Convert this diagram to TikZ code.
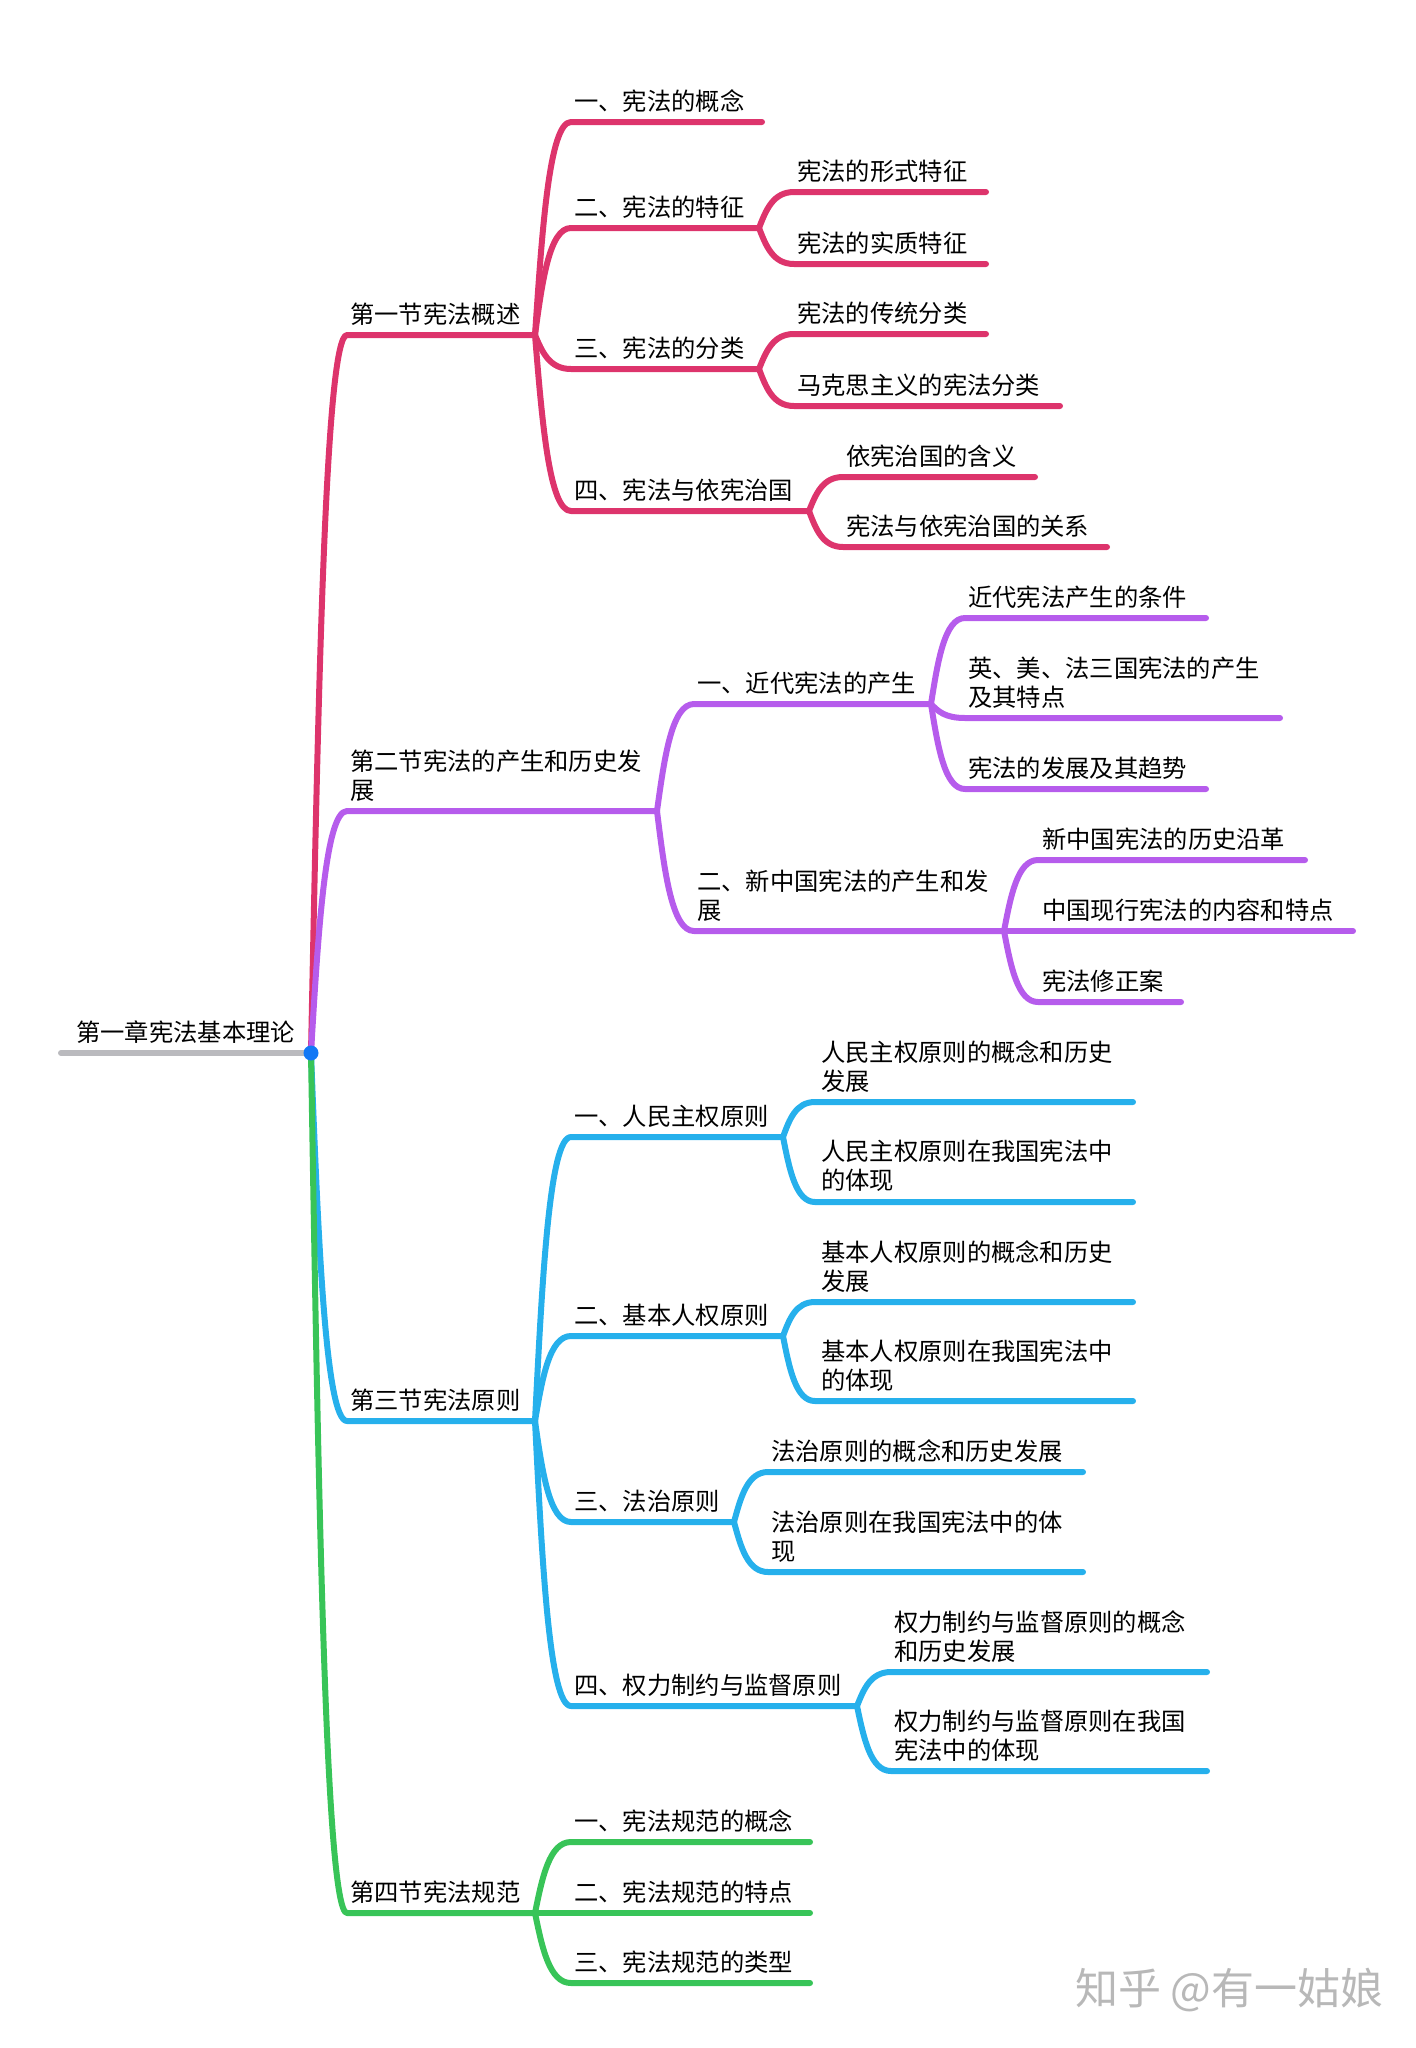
\documentclass[tikz,border=0pt]{standalone}
\usepackage{fontspec}
\setmainfont{Noto Sans CJK SC}
\usetikzlibrary{calc}

\definecolor{secred}{RGB}{221,52,108}
\definecolor{secpurple}{RGB}{182,92,236}
\definecolor{secblue}{RGB}{38,176,236}
\definecolor{secgreen}{RGB}{56,196,88}
\definecolor{rootgray}{RGB}{186,186,190}
\definecolor{dotblue}{RGB}{18,120,245}

\tikzset{
  branch/.style={line width=6pt, line cap=round, line join=round},
  link/.style={to path={let \p1=(\tikztostart), \p2=(\tikztotarget) in
      .. controls (0.8*\x1+0.2*\x2, 0.5*\y1+0.5*\y2) and (0.6*\x1+0.4*\x2, \y2) .. (\tikztotarget)}},
  topic/.style={anchor=base west, inner sep=0pt, align=left,
      font=\fontsize{24.3}{28.2}\selectfont},
  wmark/.style={anchor=west, inner sep=0pt, text=black!28,
      font=\fontsize{43}{47}\selectfont}
}

\begin{document}
\begin{tikzpicture}[x=1pt, y=-1pt]
\useasboundingbox (0,0) rectangle (1416,2048);

% root
\coordinate (r0) at (61,1053);
\coordinate (r1) at (311,1053);

% first section
\coordinate (a1)   at (347,335);  \coordinate (b1)   at (535,335);
\coordinate (a11)  at (571,122);  \coordinate (b11)  at (762,122);
\coordinate (a12)  at (571,228);  \coordinate (b12)  at (759,228);
\coordinate (a121) at (794,192);  \coordinate (b121) at (986,192);
\coordinate (a122) at (794,264);  \coordinate (b122) at (986,264);
\coordinate (a13)  at (571,369);  \coordinate (b13)  at (759,369);
\coordinate (a131) at (794,334);  \coordinate (b131) at (986,334);
\coordinate (a132) at (794,406);  \coordinate (b132) at (1060,406);
\coordinate (a14)  at (571,511);  \coordinate (b14)  at (809,511);
\coordinate (a141) at (843,477);  \coordinate (b141) at (1035,477);
\coordinate (a142) at (843,547);  \coordinate (b142) at (1107,547);

% second section
\coordinate (a2)   at (347,811);  \coordinate (b2)   at (657,811);
\coordinate (a21)  at (694,704);  \coordinate (b21)  at (931,704);
\coordinate (a211) at (965,618);  \coordinate (b211) at (1206,618);
\coordinate (a212) at (965,718);  \coordinate (b212) at (1280,718);
\coordinate (a213) at (965,789);  \coordinate (b213) at (1206,789);
\coordinate (a22)  at (694,931);  \coordinate (b22)  at (1004,931);
\coordinate (a221) at (1038,860); \coordinate (b221) at (1305,860);
\coordinate (a222) at (1038,931); \coordinate (b222) at (1353,931);
\coordinate (a223) at (1038,1002);\coordinate (b223) at (1181,1002);

% third section
\coordinate (a3)   at (347,1421); \coordinate (b3)   at (535,1421);
\coordinate (a31)  at (571,1137); \coordinate (b31)  at (783,1137);
\coordinate (a311) at (815,1102); \coordinate (b311) at (1133,1102);
\coordinate (a312) at (815,1202); \coordinate (b312) at (1133,1202);
\coordinate (a32)  at (571,1336); \coordinate (b32)  at (783,1336);
\coordinate (a321) at (815,1302); \coordinate (b321) at (1133,1302);
\coordinate (a322) at (815,1401); \coordinate (b322) at (1133,1401);
\coordinate (a33)  at (571,1522); \coordinate (b33)  at (734,1522);
\coordinate (a331) at (768,1472); \coordinate (b331) at (1083,1472);
\coordinate (a332) at (768,1572); \coordinate (b332) at (1083,1572);
\coordinate (a34)  at (571,1706); \coordinate (b34)  at (857,1706);
\coordinate (a341) at (891,1672); \coordinate (b341) at (1207,1672);
\coordinate (a342) at (891,1771); \coordinate (b342) at (1207,1771);

% fourth section
\coordinate (a4)   at (347,1913); \coordinate (b4)   at (535,1913);
\coordinate (a41)  at (571,1842); \coordinate (b41)  at (810,1842);
\coordinate (a42)  at (571,1913); \coordinate (b42)  at (810,1913);
\coordinate (a43)  at (571,1983); \coordinate (b43)  at (810,1983);

\draw[branch, rootgray] (r0) -- (r1);

\draw[branch, secred] (r1) to[link] (a1) -- (b1);
\draw[branch, secred] (b1) to[link] (a11) -- (b11);
\draw[branch, secred] (b1) to[link] (a12) -- (b12);
\draw[branch, secred] (b12) to[link] (a121) -- (b121);
\draw[branch, secred] (b12) to[link] (a122) -- (b122);
\draw[branch, secred] (b1) to[link] (a13) -- (b13);
\draw[branch, secred] (b13) to[link] (a131) -- (b131);
\draw[branch, secred] (b13) to[link] (a132) -- (b132);
\draw[branch, secred] (b1) to[link] (a14) -- (b14);
\draw[branch, secred] (b14) to[link] (a141) -- (b141);
\draw[branch, secred] (b14) to[link] (a142) -- (b142);

\draw[branch, secpurple] (r1) to[link] (a2) -- (b2);
\draw[branch, secpurple] (b2) to[link] (a21) -- (b21);
\draw[branch, secpurple] (b21) to[link] (a211) -- (b211);
\draw[branch, secpurple] (b21) to[link] (a212) -- (b212);
\draw[branch, secpurple] (b21) to[link] (a213) -- (b213);
\draw[branch, secpurple] (b2) to[link] (a22) -- (b22);
\draw[branch, secpurple] (b22) to[link] (a221) -- (b221);
\draw[branch, secpurple] (b22) to[link] (a222) -- (b222);
\draw[branch, secpurple] (b22) to[link] (a223) -- (b223);

\draw[branch, secblue] (r1) to[link] (a3) -- (b3);
\draw[branch, secblue] (b3) to[link] (a31) -- (b31);
\draw[branch, secblue] (b31) to[link] (a311) -- (b311);
\draw[branch, secblue] (b31) to[link] (a312) -- (b312);
\draw[branch, secblue] (b3) to[link] (a32) -- (b32);
\draw[branch, secblue] (b32) to[link] (a321) -- (b321);
\draw[branch, secblue] (b32) to[link] (a322) -- (b322);
\draw[branch, secblue] (b3) to[link] (a33) -- (b33);
\draw[branch, secblue] (b33) to[link] (a331) -- (b331);
\draw[branch, secblue] (b33) to[link] (a332) -- (b332);
\draw[branch, secblue] (b3) to[link] (a34) -- (b34);
\draw[branch, secblue] (b34) to[link] (a341) -- (b341);
\draw[branch, secblue] (b34) to[link] (a342) -- (b342);

\draw[branch, secgreen] (r1) to[link] (a4) -- (b4);
\draw[branch, secgreen] (b4) to[link] (a41) -- (b41);
\draw[branch, secgreen] (b4) to[link] (a42) -- (b42);
\draw[branch, secgreen] (b4) to[link] (a43) -- (b43);

\fill[dotblue] (r1) circle (7.5pt);

\node[topic] (n0) at (76,1041) {第一章宪法基本理论};

\node[topic] (n1)   at (350,323)  {第一节宪法概述};
\node[topic] (n11)  at (574,110)  {一、宪法的概念};
\node[topic] (n12)  at (574,216)  {二、宪法的特征};
\node[topic] (n121) at (797,180)  {宪法的形式特征};
\node[topic] (n122) at (797,252)  {宪法的实质特征};
\node[topic] (n13)  at (574,357)  {三、宪法的分类};
\node[topic] (n131) at (797,322)  {宪法的传统分类};
\node[topic] (n132) at (797,394)  {马克思主义的宪法分类};
\node[topic] (n14)  at (574,499)  {四、宪法与依宪治国};
\node[topic] (n141) at (846,465)  {依宪治国的含义};
\node[topic] (n142) at (846,535)  {宪法与依宪治国的关系};

\node[topic] (n2)   at (350,799)  {第二节宪法的产生和历史发\\展};
\node[topic] (n21)  at (697,692)  {一、近代宪法的产生};
\node[topic] (n211) at (968,606)  {近代宪法产生的条件};
\node[topic] (n212) at (968,706)  {英、美、法三国宪法的产生\\及其特点};
\node[topic] (n213) at (968,777)  {宪法的发展及其趋势};
\node[topic] (n22)  at (697,919)  {二、新中国宪法的产生和发\\展};
\node[topic] (n221) at (1042,848) {新中国宪法的历史沿革};
\node[topic] (n222) at (1042,919) {中国现行宪法的内容和特点};
\node[topic] (n223) at (1042,990) {宪法修正案};

\node[topic] (n3)   at (350,1409) {第三节宪法原则};
\node[topic] (n31)  at (574,1125) {一、人民主权原则};
\node[topic] (n311) at (821,1090) {人民主权原则的概念和历史\\发展};
\node[topic] (n312) at (821,1189) {人民主权原则在我国宪法中\\的体现};
\node[topic] (n32)  at (574,1324) {二、基本人权原则};
\node[topic] (n321) at (821,1290) {基本人权原则的概念和历史\\发展};
\node[topic] (n322) at (821,1389) {基本人权原则在我国宪法中\\的体现};
\node[topic] (n33)  at (574,1510) {三、法治原则};
\node[topic] (n331) at (771,1460) {法治原则的概念和历史发展};
\node[topic] (n332) at (771,1560) {法治原则在我国宪法中的体\\现};
\node[topic] (n34)  at (574,1694) {四、权力制约与监督原则};
\node[topic] (n341) at (894,1660) {权力制约与监督原则的概念\\和历史发展};
\node[topic] (n342) at (894,1759) {权力制约与监督原则在我国\\宪法中的体现};

\node[topic] (n4)   at (350,1901) {第四节宪法规范};
\node[topic] (n41)  at (574,1830) {一、宪法规范的概念};
\node[topic] (n42)  at (574,1901) {二、宪法规范的特点};
\node[topic] (n43)  at (574,1971) {三、宪法规范的类型};

\node[wmark] (wm) at (1075,1990) {知乎 @有一姑娘};

\end{tikzpicture}
\end{document}
